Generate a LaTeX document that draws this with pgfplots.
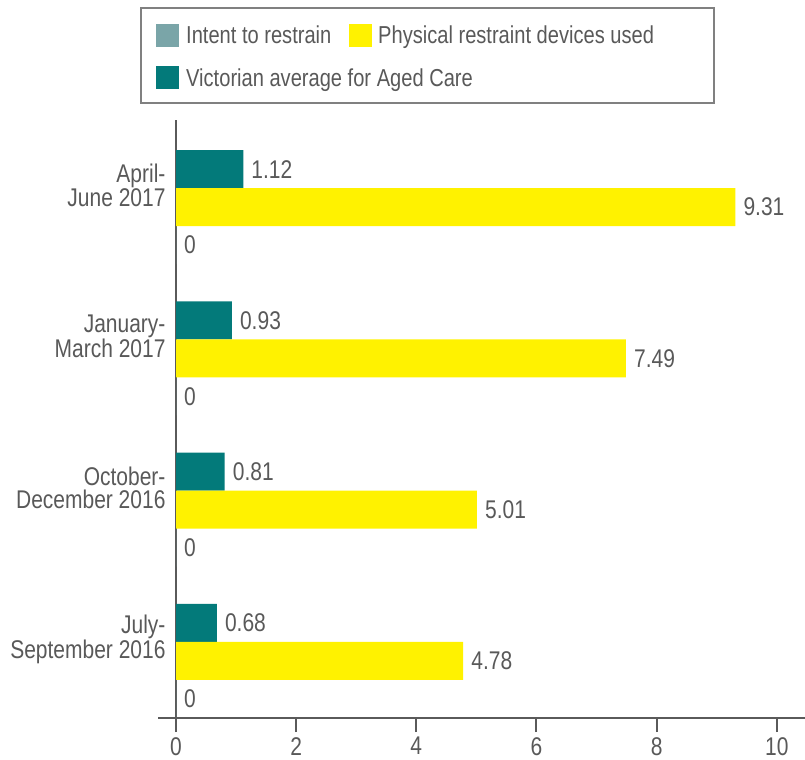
\documentclass[border=0pt]{standalone}
\usepackage{fontspec}
\setmainfont{Liberation Sans}[FakeStretch=0.82]
\usepackage{pgfplots}
\pgfplotsset{compat=1.18}
\definecolor{tealA}{RGB}{3,122,122}
\definecolor{yelA}{RGB}{255,242,0}
\definecolor{intentA}{RGB}{122,165,168}
\definecolor{txtA}{RGB}{89,89,89}
\definecolor{axlA}{RGB}{90,90,90}
\definecolor{borderA}{RGB}{128,128,128}
\newcommand{\fnt}{\fontsize{24.5bp}{23bp}\selectfont}
\newcommand{\fnta}{\fontsize{25.6bp}{23.5bp}\selectfont}
\begin{document}
\begin{tikzpicture}[x=1bp,y=1bp]
\useasboundingbox (0,0) rectangle (805,-760);
\begin{axis}[
  at={(176bp,-718bp)}, anchor=south west,
  scale only axis, width=629bp, height=598bp,
  xmin=0, xmax=10.47, ymin=-0.377, ymax=3.576,
  axis x line=bottom, axis y line=left,
  axis line style={-, axlA, line width=2.5bp},
  xtick={0,2,4,6,8,10},
  ytick={0.125,1.125,2.125,3.125},
  yticklabels={{July-\\September 2016},{October-\\December 2016},{January-\\March 2017},{April-\\June 2017}},
  tick align=outside, major tick length=14bp,
  x tick style={axlA, line width=2bp},
  y tick style={draw=none},
  xticklabel style={font=\fnta, text=txtA, inner sep=0pt, yshift=-5bp},
  yticklabel style={font=\fnta, text=txtA, align=right, xshift=7bp, yshift=3bp},
  /pgf/number format/assume math mode=true,
  point meta=explicit symbolic,
  nodes near coords,
  nodes near coords style={anchor=west, inner sep=0pt, xshift=8bp, font=\fnta, text=txtA},
  clip=false,
]
\addplot[xbar, bar width=38bp, bar shift=38bp, fill=tealA, draw=none,
  every node near coord/.append style={yshift=38bp}]
  coordinates {(0.68,0)[0.68] (0.81,1)[0.81] (0.93,2)[0.93] (1.12,3)[1.12]};
\addplot[xbar, bar width=38bp, bar shift=0bp, fill=yelA, draw=none]
  coordinates {(4.78,0)[4.78] (5.01,1)[5.01] (7.49,2)[7.49] (9.31,3)[9.31]};
\addplot[xbar, bar width=38bp, bar shift=-38bp, fill=intentA, draw=none,
  every node near coord/.append style={yshift=-38bp}]
  coordinates {(0,0)[0] (0,1)[0] (0,2)[0] (0,3)[0]};
\end{axis}
\draw[axlA, line width=2.5bp] (158,-718) -- (177,-718);
% legend
\draw[borderA, line width=1.5bp] (141,-8) rectangle (714,-103);
\fill[intentA] (156,-24) rectangle (179,-47);
\node[anchor=base west, inner sep=0pt, text=txtA, font=\fnt] at (186,-44) {Intent to restrain};
\fill[yelA] (349,-24) rectangle (372,-47);
\node[anchor=base west, inner sep=0pt, text=txtA, font=\fnt] at (378,-44) {Physical restraint devices used};
\fill[tealA] (156,-66) rectangle (179,-89);
\node[anchor=base west, inner sep=0pt, text=txtA, font=\fnt] at (186,-86) {Victorian average for Aged Care};
\end{tikzpicture}
\end{document}
